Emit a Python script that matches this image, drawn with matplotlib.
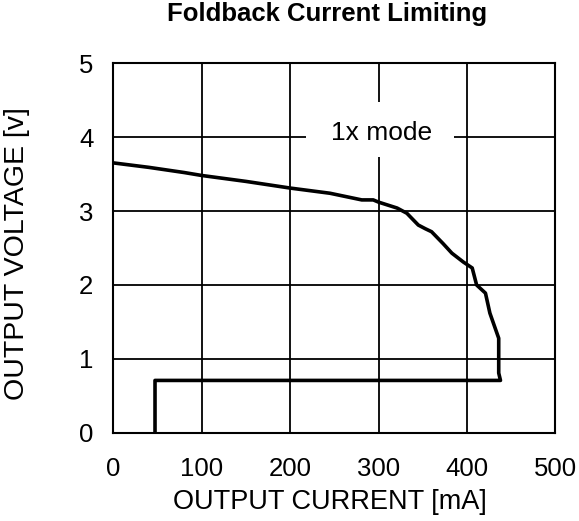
import matplotlib
matplotlib.use("Agg")
import matplotlib.pyplot as plt
from matplotlib.patches import Rectangle

plt.rcParams['font.family'] = ['Liberation Sans', 'DejaVu Sans']

# Upper (1x mode) curve, then fold back
current_ma = [0, 40, 80, 90, 100, 150, 200, 245, 281, 294, 300, 321, 332, 345, 353, 360,
              373, 383, 396, 406, 411, 421, 426, 436, 436, 438, 47, 47]
voltage_v = [3.65, 3.59, 3.52, 3.50, 3.48, 3.40, 3.31, 3.24, 3.15, 3.15, 3.12, 3.04, 2.97,
             2.81, 2.76, 2.72, 2.56, 2.43, 2.31, 2.23, 2.0, 1.89, 1.62, 1.28, 0.81, 0.71, 0.71, 0.0]

x_ticks = [0, 100, 200, 300, 400, 500]
y_ticks = [0, 1, 2, 3, 4, 5]

fig = plt.figure(figsize=(5.79, 5.21), dpi=100)
ax = fig.add_axes([0.196, 0.169, 0.763, 0.710])
ax.set_xlim(0, 500)
ax.set_ylim(0, 5)
ax.set_xticks(x_ticks)
ax.set_yticks(y_ticks)
ax.grid(True, color='black', linewidth=1.3)
ax.set_axisbelow(True)
for s in ax.spines.values():
    s.set_linewidth(1.5)
ax.tick_params(length=0, labelsize=18.5)
ax.tick_params(axis='x', pad=17)
ax.tick_params(axis='y', pad=14.5)

ax.plot(current_ma, voltage_v, color='black', linewidth=2.6, solid_joinstyle='round', zorder=3)

# white label box covering the grid
ax.add_patch(Rectangle((218, 3.73), 167.6, 0.74, facecolor='white', edgecolor='none', zorder=2))
ax.text(303.5, 4.06, '1x mode', fontsize=19, ha='center', va='center', zorder=4)

ax.set_xlabel('OUTPUT CURRENT [mA]', fontsize=19.5, va='center')
ax.xaxis.set_label_coords(0.49, -0.1865)
ax.set_ylabel('OUTPUT VOLTAGE [v]', fontsize=20.5, va='center')
ax.yaxis.set_label_coords(-0.2174, 0.486)
fig.text(0.565, 0.9735, 'Foldback Current Limiting', fontsize=18.5, fontweight='bold',
         ha='center', va='center')

fig.savefig('out.png', dpi=100)
